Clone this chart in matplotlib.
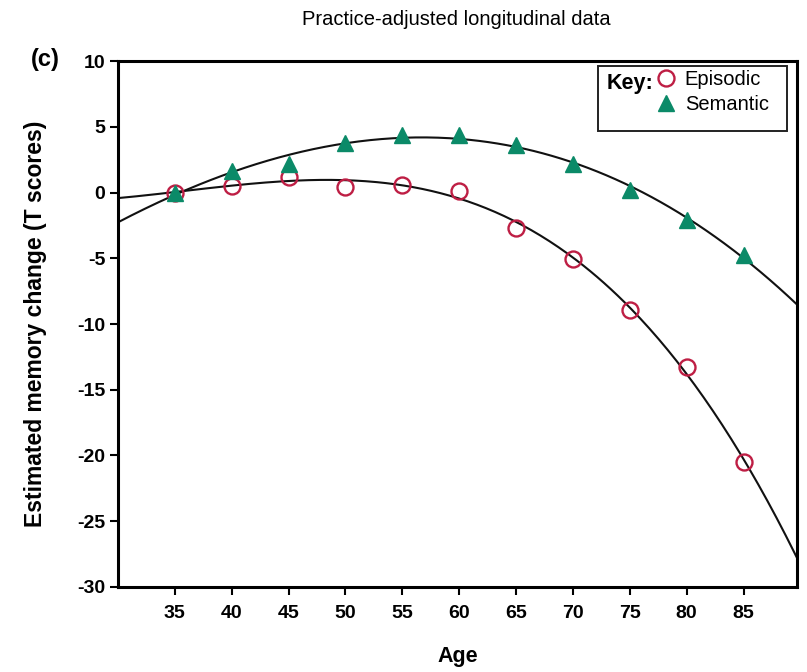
import numpy as np
import matplotlib
matplotlib.use("Agg")
import matplotlib.pyplot as plt
from matplotlib.patches import Rectangle

plt.rcParams['font.family'] = ['Liberation Sans', 'DejaVu Sans']

ages = [35, 40, 45, 50, 55, 60, 65, 70, 75, 80, 85]
episodic = [0.0, 0.5, 1.2, 0.45, 0.6, 0.15, -2.7, -5.05, -8.9, -13.3, -20.5]
semantic = [0.0, 1.6, 2.2, 3.8, 4.4, 4.4, 3.6, 2.2, 0.2, -2.1, -4.75]
xticks = [35, 40, 45, 50, 55, 60, 65, 70, 75, 80, 85]
yticks = [-30, -25, -20, -15, -10, -5, 0, 5, 10]

ep_color = '#be1e44'
se_color = '#0b8a68'

fig = plt.figure(figsize=(8.07, 6.72), dpi=100)
ax = fig.add_axes([0.1462, 0.1265, 0.8414, 0.7827])

xlim = (30, 89.7)
xs = np.linspace(xlim[0], xlim[1], 300)
ep_fit = np.polyfit(ages, episodic, 3)
se_fit = np.polyfit(ages, semantic, 3)
ax.plot(xs, np.polyval(ep_fit, xs), color='#111111', lw=1.5, zorder=2)
ax.plot(xs, np.polyval(se_fit, xs), color='#111111', lw=1.5, zorder=2)

h_ep, = ax.plot(ages, episodic, 'o', ms=11.5, mfc='none', mec=ep_color, mew=1.7, zorder=3, label='Episodic')
h_se, = ax.plot(ages, semantic, '^', ms=11.5, color=se_color, mec=se_color, zorder=3, label='Semantic')

ax.set_xlim(*xlim)
ax.set_ylim(-30, 10)
ax.set_xticks(xticks)
ax.set_yticks(yticks)
ax.set_yticklabels([f"{v}" for v in yticks])
for s in ax.spines.values():
    s.set_linewidth(2.2)
ax.tick_params(direction='out', length=6, width=1.5, labelsize=14, pad=3)
ax.tick_params(axis='x', pad=7)
for lab in ax.get_xticklabels() + ax.get_yticklabels():
    lab.set_fontweight('bold')

ax.set_xlabel('Age', fontsize=15.5, fontweight='bold')
ax.set_ylabel('Estimated memory change (T scores)', fontsize=16.5, fontweight='bold')
ax.xaxis.set_label_coords(0.5, -0.112)
ax.yaxis.set_label_coords(-0.104, 0.5)

fig.text(0.566, 0.971, 'Practice-adjusted longitudinal data', ha='center', va='center', fontsize=14.5)
fig.text(0.056, 0.912, '(c)', ha='center', va='center', fontsize=17, fontweight='bold')

# legend box
ax.add_patch(Rectangle((0.707, 0.867), 0.278, 0.1235, transform=ax.transAxes,
                       fill=True, facecolor='white', edgecolor='#222222', lw=1.4, zorder=5))
ax.text(0.72, 0.958, 'Key:', transform=ax.transAxes, ha='left', va='center',
        fontsize=15.5, fontweight='bold', zorder=6)
leg = ax.legend(handles=[h_ep, h_se], loc='upper left', bbox_to_anchor=(0.78, 0.999),
                frameon=False, fontsize=14.5, handlelength=1.0, handletextpad=0.45,
                labelspacing=0.3, borderaxespad=0)
leg.set_zorder(7)

fig.savefig('out.png', dpi=100)
